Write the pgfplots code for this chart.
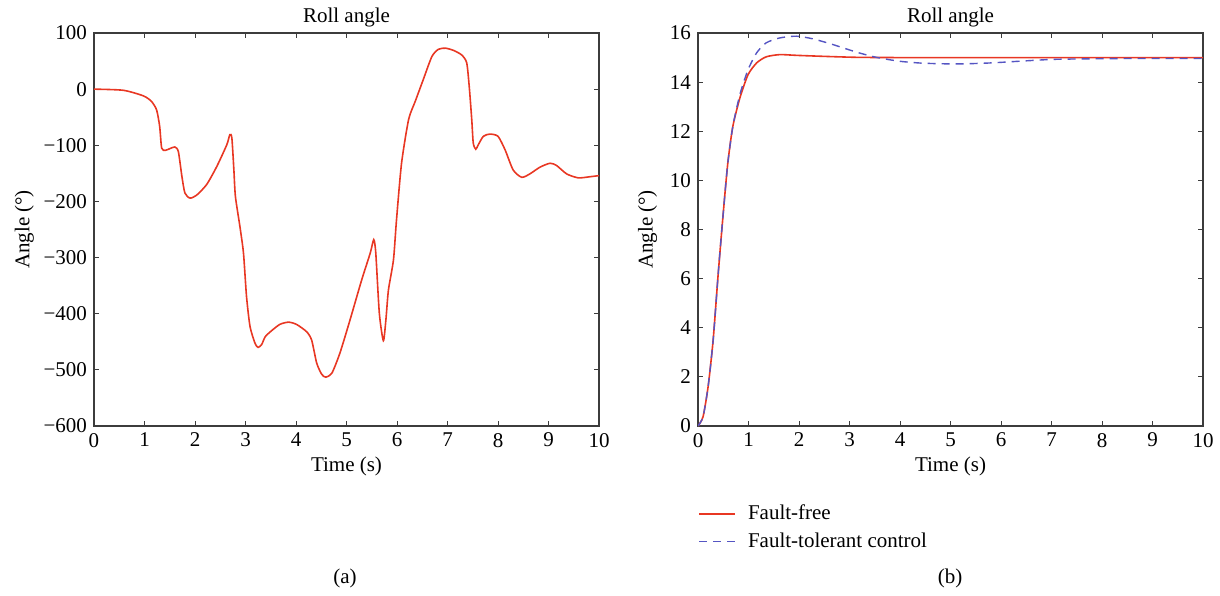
\documentclass[border=0pt]{standalone}
\usepackage{pgfplots}
\pgfplotsset{compat=1.18}
\usepackage{fontspec}
\setmainfont{Liberation Serif}
\definecolor{cred}{RGB}{232,55,35}
\definecolor{cblue}{RGB}{85,85,195}
\definecolor{axgray}{RGB}{60,60,60}
\pgfplotsset{
  every axis/.append style={font=\fontsize{10.5}{12.6}\selectfont},
  myax/.style={
    scale only axis, width=252.5pt, height=196.5pt,
    xmin=0, xmax=10, xtick={0,1,...,10},
    tick align=inside, major tick length=2.5pt,
    axis line style={axgray, line width=0.6pt},
    every tick/.style={axgray, line width=0.5pt},
    /pgf/number format/assume math mode=true,
    title={Roll angle},
    xlabel={Time (s)}, ylabel={Angle (°)},
    title style={yshift=-6.5pt},
    xlabel style={yshift=2pt},
  }
}
\begin{document}
\begin{tikzpicture}
\useasboundingbox (-47pt,-84.5pt) rectangle (563pt,213pt);
\begin{axis}[myax, ymin=-600, ymax=100, ytick={-600,-500,...,100},
  yticklabels={−600,−500,−400,−300,−200,−100,0,100},
  ylabel style={yshift=-2pt},
  at={(0pt,0pt)}, anchor=south west]
\addplot[cred, line width=0.8pt, smooth, tension=0.4] coordinates {
(0,0) (0.58,-2) (0.98,-12) (1.14,-22) (1.24,-37) (1.30,-66) (1.34,-105) (1.41,-109)
(1.50,-106) (1.60,-103) (1.67,-111) (1.74,-155) (1.80,-185) (1.90,-194) (2.03,-189)
(2.23,-170) (2.43,-138) (2.63,-99) (2.69,-81) (2.73,-87) (2.77,-144) (2.80,-191)
(2.89,-245) (2.96,-292) (3.02,-369) (3.09,-423) (3.19,-453) (3.25,-460) (3.32,-455)
(3.39,-441) (3.52,-430) (3.68,-419) (3.85,-415) (4.01,-419) (4.21,-432) (4.31,-447)
(4.41,-488) (4.51,-508) (4.59,-513) (4.71,-506) (4.87,-470) (5.07,-411) (5.30,-340)
(5.47,-292) (5.54,-268) (5.58,-292) (5.65,-399) (5.73,-448) (5.78,-411) (5.83,-358)
(5.93,-304) (5.99,-233) (6.09,-132) (6.23,-54) (6.36,-22) (6.52,17) (6.69,58)
(6.82,71) (6.96,73) (7.12,69) (7.28,61) (7.38,47) (7.43,5) (7.48,-54) (7.51,-96)
(7.56,-107) (7.61,-99) (7.71,-84) (7.84,-80) (8.00,-84) (8.14,-108) (8.30,-144)
(8.47,-157) (8.63,-151) (8.83,-139) (9.03,-132) (9.16,-136) (9.36,-151) (9.59,-158)
(9.82,-156) (10,-154)
};
\end{axis}
\begin{axis}[myax, ymin=0, ymax=16, ytick={0,2,...,16},
  ylabel style={yshift=-0.5pt},
  at={(302pt,0pt)}, anchor=south west,
  legend style={at={(0,-0.18)}, anchor=north west, draw=none, fill=none,
    inner xsep=0pt, row sep=1pt, font=\fontsize{10.5}{12.6}\selectfont,
    nodes={inner xsep=6pt}},
  legend cell align=left,
  legend image code/.code={\draw[#1] (0pt,0pt) -- (18pt,0pt);}]
\addplot[cred, line width=0.8pt, smooth, tension=0.4] coordinates {
(0,0) (0.10,0.38) (0.20,1.6) (0.30,3.5) (0.40,6.2) (0.50,8.67) (0.59,10.7) (0.69,12.2)
(0.83,13.36) (0.99,14.3) (1.16,14.78) (1.35,15.03) (1.62,15.12) (1.95,15.09)
(2.48,15.05) (3.14,15.01) (4,15.0) (6,15.0) (8,15.0) (10,15.0)
};
\addlegendentry{Fault-free}
\addplot[cblue, line width=0.7pt, dash pattern=on 4pt off 3pt, smooth, tension=0.4] coordinates {
(0,0) (0.10,0.38) (0.20,1.6) (0.30,3.5) (0.40,6.2) (0.50,8.67) (0.59,10.7) (0.69,12.2)
(0.83,13.5) (0.99,14.5) (1.16,15.19) (1.35,15.6) (1.62,15.8) (1.95,15.87) (2.28,15.76)
(2.67,15.53) (3.14,15.22) (3.53,15.01) (3.99,14.85) (4.46,14.77) (5.12,14.74)
(5.78,14.78) (6.44,14.86) (7.1,14.93) (8.42,14.96) (10,14.96)
};
\addlegendentry{Fault-tolerant control}
\end{axis}
\node[font=\fontsize{10.5}{12.6}\selectfont] at (125.5pt,-76pt) {(a)};
\node[font=\fontsize{10.5}{12.6}\selectfont] at (428pt,-76pt) {(b)};
\end{tikzpicture}
\end{document}
